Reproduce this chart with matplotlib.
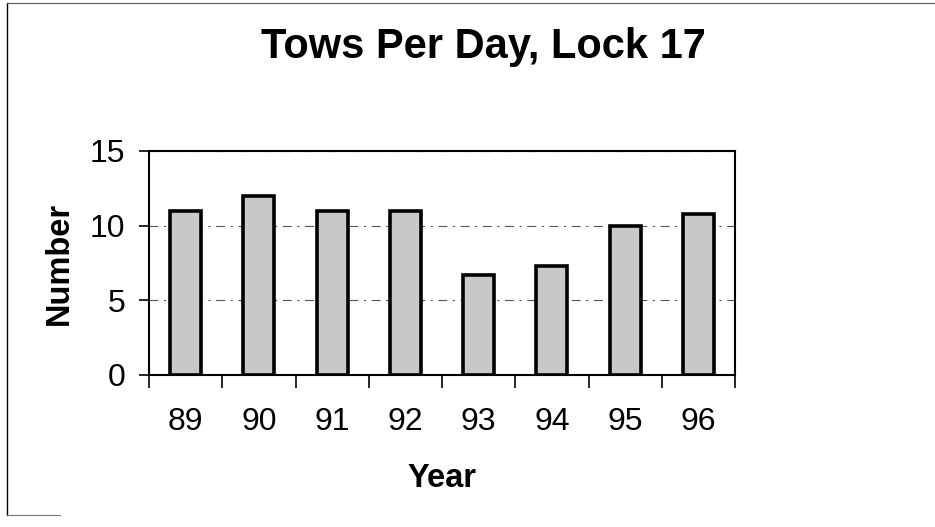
import matplotlib.pyplot as plt
from matplotlib.lines import Line2D

# Tows per day at Lock 17, by year
years = ['89', '90', '91', '92', '93', '94', '95', '96']
tows = [11.0, 12.0, 11.0, 11.0, 6.7, 7.3, 10.0, 10.8]

plt.rcParams['font.family'] = ['Liberation Sans', 'DejaVu Sans']

fig = plt.figure(figsize=(9.35, 5.27), dpi=100)
ax = fig.add_axes([149 / 935, 1 - 375 / 527, 586 / 935, 224 / 527])

x = range(len(years))
ax.bar(x, tows, width=0.42, color='#c8c8c8', edgecolor='black', linewidth=2.6, zorder=3)

ax.set_xlim(-0.5, len(years) - 0.5)
ax.set_ylim(0, 15)
ax.set_yticks([0, 5, 10, 15])

# category labels in the middle, tick marks on the boundaries
ax.set_xticks([i - 0.5 for i in range(len(years) + 1)])
ax.set_xticklabels([])
ax.set_xticks(list(x), minor=True)
ax.set_xticklabels(years, minor=True)
ax.tick_params(axis='x', which='major', length=9, width=1.2, direction='out')
ax.tick_params(axis='x', which='minor', length=0, pad=23, labelsize=23)
ax.tick_params(axis='y', length=7, width=1.2, pad=10, labelsize=23)

ax.grid(axis='y', which='major', color='#555555', linestyle=(0, (8, 5, 2, 5)), linewidth=0.8, zorder=0)

for s in ax.spines.values():
    s.set_linewidth(1.5)

ax.set_xlabel('Year', fontsize=23.5, fontweight='bold', labelpad=18.5)
ax.set_ylabel('Number', fontsize=23.5, fontweight='bold', labelpad=11)

fig.text(483 / 935, 1 - 47 / 527, 'Tows Per Day, Lock 17', fontsize=30, fontweight='bold',
         ha='center', va='center')

# outer chart border (left, top, and a bit of the bottom, as scanned)
fig.add_artist(Line2D([7 / 935, 7 / 935], [1 - 3 / 527, 1 - 515 / 527], color='black', lw=1.0))
fig.add_artist(Line2D([7 / 935, 1.0], [1 - 3 / 527, 1 - 3 / 527], color='#555555', lw=0.8))
fig.add_artist(Line2D([7 / 935, 60 / 935], [1 - 515 / 527, 1 - 515 / 527], color='#777777', lw=0.8))

plt.savefig('out.png', dpi=100)
